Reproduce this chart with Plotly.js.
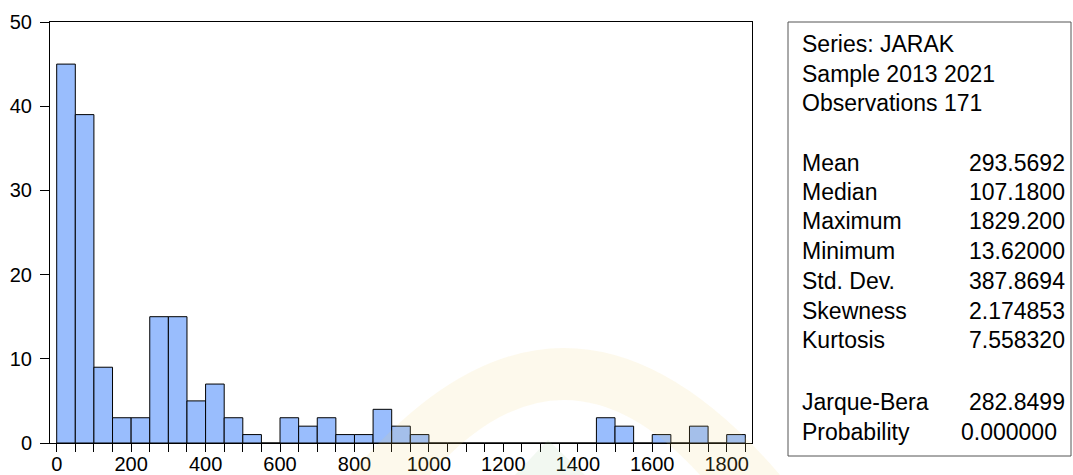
<!DOCTYPE html>
<html>
<head>
<meta charset="utf-8">
<script src="https://cdn.plot.ly/plotly-3.0.1.min.js"></script>
<style>html,body{margin:0;padding:0;background:#fff;}#chart{width:1073px;height:475px;}</style>
</head>
<body>
<div id="chart"></div>
<script>
// ---- data ----
const binWidth = 50;
const binStart = [0,50,100,150,200,250,300,350,400,450,500,550,600,650,700,750,800,850,900,950,
                  1000,1050,1100,1150,1200,1250,1300,1350,1400,1450,1500,1550,1600,1650,1700,1750,1800];
const counts   = [45,39,9,3,3,15,15,5,7,3,1,0,3,2,3,1,1,4,2,1,
                  0,0,0,0,0,0,0,0,0,3,2,0,1,0,2,0,1];
const xTickVals = [0,200,400,600,800,1000,1200,1400,1600,1800];
const yTickVals = [0,10,20,30,40,50];
const headerLines = ["Series: JARAK", "Sample 2013 2021", "Observations 171"];
const statLabels = ["Mean","Median","Maximum","Minimum","Std. Dev.","Skewness","Kurtosis"];
const statValues = ["293.5692","107.1800","1829.200","13.62000","387.8694","2.174853","7.558320"];
const testLabels = ["Jarque-Bera","Probability"];
const testValues = ["282.8499","0.000000"];

// ---- layout helpers (pixel -> paper) ----
const W = 1073, H = 475;
const L = 50, T = 22, R = 752, B = 443;
const pw = R - L, ph = B - T;
const px = v => (v - L) / pw;
const py = v => (B - v) / ph;
const FONT = "Liberation Sans, Arial, sans-serif";
const STAT_SIZE = 23;

const annotations = [];
function addText(text, xPix, yPix, anchor, size) {
  annotations.push({text: text, xref:'paper', yref:'paper', x: px(xPix), y: py(yPix),
    xanchor: anchor, yanchor:'middle', showarrow:false,
    font:{family:FONT, size:size, color:'#000'}});
}
const headerY = [44, 74, 103];
headerLines.forEach((t,i) => addText(t, 800, headerY[i], 'left', STAT_SIZE));
const statY = [163, 192, 221, 251, 281, 311, 340];
statLabels.forEach((t,i) => { addText(t, 800, statY[i], 'left', STAT_SIZE); addText(statValues[i], 1067, statY[i], 'right', STAT_SIZE); });
const testY = [402, 432];
const testRight = [1067, 1059];
testLabels.forEach((t,i) => { addText(t, 800, testY[i], 'left', STAT_SIZE); addText(testValues[i], testRight[i], testY[i], 'right', STAT_SIZE); });

// watermark (decorative, faint)
function pathPix(cmds) {
  return cmds.map(c => c[0] + c.slice(1).map((v,j) => (j % 2 === 0 ? px(v) : py(v)).toFixed(4)).join(',')).join(' ');
}
const arcPath = pathPix([['M',350,475],['Q',563,221,780,475],['L',700,475],['Q',563,325,430,475]]) + ' Z';
const greenPath = pathPix([['M',515,475],['L',548,440],['L',585,475]]) + ' Z';

const shapes = [
  {type:'path', xref:'paper', yref:'paper', path: arcPath, fillcolor:'rgba(240,205,110,0.13)', line:{width:0}, layer:'above'},
  {type:'path', xref:'paper', yref:'paper', path: greenPath, fillcolor:'rgba(150,200,140,0.12)', line:{width:0}, layer:'above'},
  {type:'rect', xref:'paper', yref:'paper', x0: px(788), x1: px(1071), y0: py(22), y1: py(456),
   line:{color:'#555', width:1}, fillcolor:'rgba(0,0,0,0)', layer:'above'}
];

const trace = {
  type:'bar',
  x: binStart.map(s => s + binWidth/2),
  y: counts,
  width: binWidth,
  marker:{color:'#99bdfd', line:{color:'#000', width:1}},
  hoverinfo:'x+y'
};

const layout = {
  width: W, height: H,
  margin:{l:L, r:W-R, t:T, b:H-B, pad:0},
  paper_bgcolor:'#fff', plot_bgcolor:'#fff',
  showlegend:false,
  bargap:0,
  font:{family:FONT, color:'#000'},
  xaxis:{
    range:[-18, 1868], tickvals:xTickVals, ticktext:xTickVals.map(String),
    ticks:'outside', ticklen:8, tickcolor:'#000', tickwidth:1,
    minor:{tickvals:binStart.concat([1850]), ticks:'outside', ticklen:8, tickcolor:'#000', tickwidth:1},
    showline:true, mirror:true, linecolor:'#000', linewidth:1,
    showgrid:false, zeroline:false, ticklabelstandoff:-5,
    tickfont:{family:FONT, size:20, color:'#000'}
  },
  yaxis:{
    range:[0, 50], tickvals:yTickVals, ticktext:yTickVals.map(String),
    ticks:'outside', ticklen:9, tickcolor:'#000', tickwidth:1,
    showline:true, mirror:true, linecolor:'#000', linewidth:1,
    showgrid:false, zeroline:false, ticklabelstandoff:4,
    tickfont:{family:FONT, size:20, color:'#000'}
  },
  shapes: shapes,
  annotations: annotations
};

Plotly.newPlot('chart', [trace], layout, {staticPlot:true, displayModeBar:false});
</script>
</body>
</html>
